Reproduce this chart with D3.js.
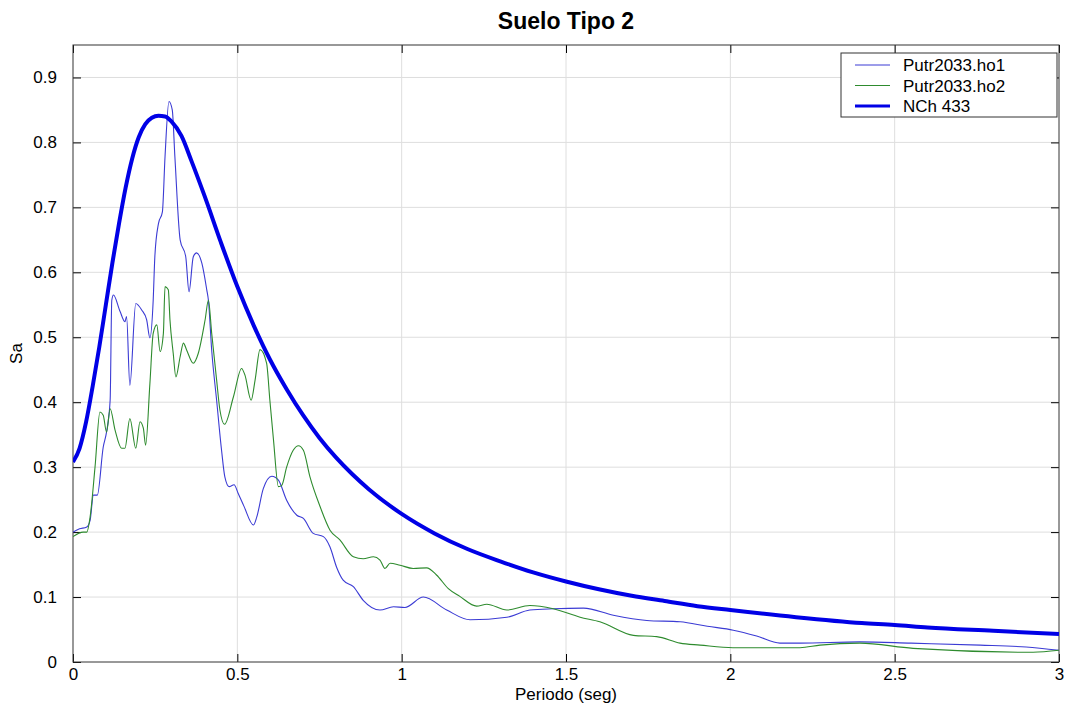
<!DOCTYPE html>
<html lang="es">
<head>
<meta charset="UTF-8" />
<title>Suelo Tipo 2</title>
<script src="https://cdn.jsdelivr.net/npm/d3@7"></script>
<style>
  body { margin: 0; background: #fff; }
  text { font-family: "Liberation Sans", Arial, sans-serif; fill: #000; }
  .tick line { stroke: #000; }
  .grid line { stroke: #dedede; stroke-width: 1; }
</style>
</head>
<body>
<div id="chart"></div>
<script>
// periods (s) and spectral accelerations
var tHo1 = [0.000,0.020,0.042,0.052,0.062,0.074,0.092,0.102,0.113,0.118,0.123,0.143,0.158,0.163,0.173,0.191,0.209,0.224,0.234,0.244,0.249,0.260,0.272,0.280,0.292,0.302,0.310,0.326,0.343,0.353,0.366,0.376,0.392,0.407,0.412,0.422,0.437,0.452,0.462,0.475,0.490,0.503,0.520,0.549,0.559,0.579,0.605,0.625,0.650,0.681,0.701,0.731,0.762,0.782,0.802,0.822,0.853,0.883,0.934,0.975,1.010,1.066,1.137,1.208,1.320,1.390,1.461,1.553,1.644,1.746,1.847,1.930,2.009,2.080,2.151,2.212,2.394,2.550,2.760,2.900,3.000];
var saHo1 = [0.200,0.205,0.208,0.218,0.257,0.257,0.331,0.354,0.403,0.557,0.565,0.540,0.524,0.532,0.426,0.552,0.542,0.527,0.499,0.557,0.624,0.675,0.693,0.778,0.863,0.850,0.778,0.650,0.624,0.570,0.624,0.630,0.614,0.573,0.557,0.480,0.403,0.326,0.285,0.270,0.273,0.259,0.240,0.211,0.223,0.267,0.286,0.280,0.249,0.226,0.221,0.198,0.193,0.177,0.146,0.126,0.116,0.095,0.080,0.085,0.084,0.100,0.080,0.065,0.069,0.080,0.082,0.083,0.072,0.064,0.062,0.055,0.049,0.040,0.029,0.029,0.031,0.029,0.026,0.023,0.018];

var tHo2 = [0.000,0.031,0.042,0.052,0.067,0.082,0.092,0.102,0.113,0.128,0.148,0.158,0.173,0.191,0.204,0.214,0.221,0.234,0.244,0.255,0.265,0.275,0.280,0.290,0.295,0.305,0.313,0.326,0.336,0.346,0.366,0.381,0.402,0.412,0.422,0.437,0.447,0.461,0.488,0.513,0.523,0.542,0.554,0.569,0.589,0.599,0.610,0.625,0.635,0.650,0.670,0.686,0.701,0.721,0.752,0.782,0.812,0.853,0.883,0.914,0.934,0.949,0.965,0.995,1.035,1.076,1.106,1.142,1.177,1.228,1.259,1.320,1.390,1.461,1.543,1.603,1.705,1.776,1.847,1.908,2.008,2.212,2.273,2.394,2.556,2.921,3.000];
var saHo2 = [0.193,0.200,0.200,0.223,0.300,0.385,0.380,0.354,0.390,0.357,0.329,0.329,0.375,0.329,0.370,0.360,0.334,0.429,0.506,0.519,0.478,0.506,0.578,0.573,0.527,0.475,0.439,0.470,0.491,0.480,0.460,0.475,0.527,0.557,0.506,0.434,0.388,0.366,0.408,0.452,0.442,0.403,0.434,0.481,0.460,0.403,0.342,0.270,0.272,0.300,0.326,0.333,0.326,0.285,0.239,0.203,0.188,0.162,0.159,0.162,0.157,0.144,0.152,0.149,0.144,0.145,0.134,0.113,0.101,0.086,0.089,0.080,0.087,0.082,0.069,0.062,0.041,0.039,0.029,0.026,0.022,0.022,0.026,0.029,0.021,0.015,0.018];

var tNch = [0.00,0.02,0.04,0.06,0.08,0.10,0.12,0.14,0.16,0.18,0.20,0.22,0.24,0.26,0.28,0.30,0.33,0.36,0.40,0.45,0.50,0.55,0.60,0.65,0.70,0.75,0.80,0.85,0.90,1.00,1.10,1.20,1.30,1.40,1.50,1.60,1.70,1.80,1.90,2.00,2.20,2.40,2.50,2.60,2.80,3.00];
var saNch = [0.308,0.329,0.370,0.425,0.485,0.550,0.615,0.675,0.730,0.775,0.808,0.828,0.838,0.841,0.840,0.832,0.810,0.772,0.718,0.646,0.578,0.518,0.465,0.420,0.380,0.345,0.315,0.289,0.266,0.228,0.198,0.174,0.155,0.138,0.124,0.112,0.102,0.094,0.086,0.080,0.069,0.060,0.057,0.053,0.048,0.043];

var xTicks = [0, 0.5, 1, 1.5, 2, 2.5, 3];
var xTickLabels = ["0", "0.5", "1", "1.5", "2", "2.5", "3"];
var yTicks = [0, 0.1, 0.2, 0.3, 0.4, 0.5, 0.6, 0.7, 0.8, 0.9];
var yTickLabels = ["0", "0.1", "0.2", "0.3", "0.4", "0.5", "0.6", "0.7", "0.8", "0.9"];

var seriesNames = ["Putr2033.ho1", "Putr2033.ho2", "NCh 433"];
var seriesColors = ["#3b3bd4", "#2e8b2e", "#0000e6"];
var seriesWidths = [1.1, 1.1, 4];

var W = 1069, H = 713;
var pL = 73, pT = 45, pR = 1059, pB = 662;

var svg = d3.select("#chart").append("svg")
  .attr("width", W)
  .attr("height", H);

var x = d3.scaleLinear().domain([0, 3]).range([pL, pR]);
var y = d3.scaleLinear().domain([0, 0.95]).range([pB, pT]);

// grid
var grid = svg.append("g").attr("class", "grid");
grid.selectAll("line.gx").data(xTicks.slice(1, -1)).enter().append("line")
  .attr("x1", function(d) { return x(d); }).attr("x2", function(d) { return x(d); })
  .attr("y1", pT).attr("y2", pB);
grid.selectAll("line.gy").data(yTicks.slice(1)).enter().append("line")
  .attr("x1", pL).attr("x2", pR)
  .attr("y1", function(d) { return y(d); }).attr("y2", function(d) { return y(d); });

// axes, MATLAB style: ticks pointing inward on all four sides
function fmt(arr, labels) { return function(d) { return labels[arr.indexOf(d)]; }; }

var xAxis = d3.axisBottom(x).tickValues(xTicks).tickFormat(fmt(xTicks, xTickLabels)).tickSizeInner(-8).tickSizeOuter(0).tickPadding(6);
var yAxis = d3.axisLeft(y).tickValues(yTicks).tickFormat(fmt(yTicks, yTickLabels)).tickSizeInner(-8).tickSizeOuter(0).tickPadding(16);

svg.append("g").attr("transform", "translate(0," + pB + ")").call(xAxis)
  .call(function(g) { g.select(".domain").remove(); })
  .selectAll("text").style("font-size", "17px");
svg.append("g").attr("transform", "translate(" + pL + ",0)").call(yAxis)
  .call(function(g) { g.select(".domain").remove(); })
  .selectAll("text").style("font-size", "17px");
svg.append("g").attr("transform", "translate(0," + pT + ")")
  .call(d3.axisTop(x).tickValues(xTicks).tickFormat("").tickSizeInner(-8).tickSizeOuter(0))
  .call(function(g) { g.select(".domain").remove(); });
svg.append("g").attr("transform", "translate(" + pR + ",0)")
  .call(d3.axisRight(y).tickValues(yTicks).tickFormat("").tickSizeInner(-8).tickSizeOuter(0))
  .call(function(g) { g.select(".domain").remove(); });

svg.append("rect")
  .attr("x", pL).attr("y", pT)
  .attr("width", pR - pL).attr("height", pB - pT)
  .attr("fill", "none").attr("stroke", "#333").attr("stroke-width", 1);

// curves
svg.append("clipPath").attr("id", "plotclip").append("rect")
  .attr("x", pL).attr("y", pT).attr("width", pR - pL).attr("height", pB - pT);

var allT = [tHo1, tHo2, tNch];
var allSa = [saHo1, saHo2, saNch];

allT.forEach(function(ts, i) {
  var pts = ts.map(function(t, k) { return [t, allSa[i][k]]; });
  var line = d3.line()
    .x(function(d) { return x(d[0]); })
    .y(function(d) { return y(d[1]); })
    .curve(d3.curveMonotoneX);
  svg.append("path")
    .datum(pts)
    .attr("clip-path", "url(#plotclip)")
    .attr("fill", "none")
    .attr("stroke", seriesColors[i])
    .attr("stroke-width", seriesWidths[i])
    .attr("stroke-linejoin", "round")
    .attr("d", line);
});

// legend
var lg = svg.append("g");
lg.append("rect")
  .attr("x", 841).attr("y", 53).attr("width", 216).attr("height", 64)
  .attr("fill", "#fff").attr("stroke", "#333").attr("stroke-width", 1);
seriesNames.forEach(function(name, i) {
  var yy = 65 + i * 20.5;
  lg.append("line")
    .attr("x1", 855).attr("x2", 890).attr("y1", yy).attr("y2", yy)
    .attr("stroke", seriesColors[i]).attr("stroke-width", i == 2 ? 3 : 1);
  lg.append("text")
    .attr("x", 903).attr("y", yy + 6)
    .style("font-size", "17px")
    .text(name);
});

// titles
svg.append("text")
  .attr("x", (pL + pR) / 2).attr("y", 29)
  .attr("text-anchor", "middle")
  .style("font-size", "23px").style("font-weight", "bold")
  .text("Suelo Tipo 2");
svg.append("text")
  .attr("x", (pL + pR) / 2).attr("y", 700)
  .attr("text-anchor", "middle")
  .style("font-size", "17px")
  .text("Periodo (seg)");
svg.append("text")
  .attr("transform", "translate(22," + ((pT + pB) / 2) + ") rotate(-90)")
  .attr("text-anchor", "middle")
  .style("font-size", "17px")
  .text("Sa");
</script>
</body>
</html>
